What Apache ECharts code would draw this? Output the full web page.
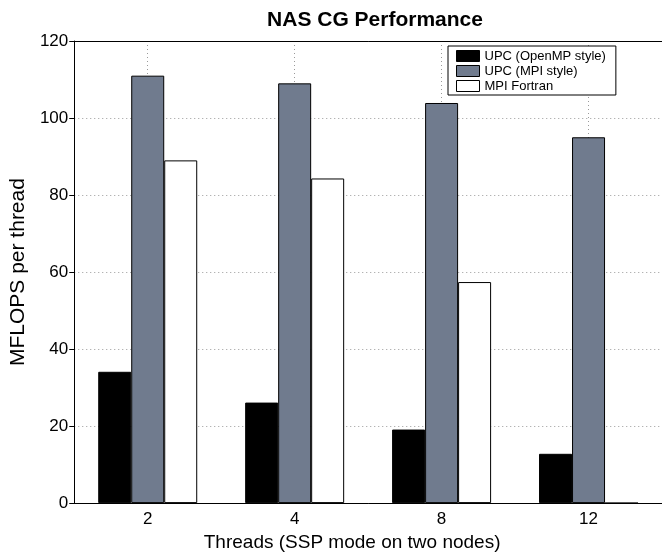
<!DOCTYPE html>
<html>
<head>
<meta charset="utf-8">
<script src="https://cdn.jsdelivr.net/npm/echarts@6/dist/echarts.min.js"></script>
<style>
html,body{margin:0;padding:0;background:#fff;}
#c{width:662px;height:557px;}
</style>
</head>
<body>
<div id="c"></div>
<script>
var categories = ['2', '4', '8', '12'];
var upcOpenMP = [34.1, 26.1, 19.1, 12.8];
var upcMPI = [111.0, 109.0, 103.9, 95.0];
var mpiFortran = [89.0, 84.3, 57.4, 0];
var seriesNames = ['UPC (OpenMP style)', 'UPC (MPI style)', 'MPI Fortran'];
var yTicks = [0, 20, 40, 60, 80, 100, 120];

// helper axis with 2*n+1 points so that odd indices fall on category centres
var halfSteps = [];
for (var i = 0; i <= categories.length * 2; i++) halfSteps.push(String(i));

var font = 'Liberation Sans, Arial, Helvetica, sans-serif';
var chart = echarts.init(document.getElementById('c'), null, {renderer: 'canvas'});
var dotted = {color: '#9a9a9a', type: [1, 3], width: 1};

chart.setOption({
  animation: false,
  backgroundColor: '#fff',
  textStyle: {fontFamily: font},
  title: {
    text: 'NAS CG Performance',
    left: 370, top: 5,
    textAlign: 'center',
    textStyle: {fontFamily: font, fontSize: 21, fontWeight: 'bold', color: '#000'}
  },
  legend: {
    orient: 'vertical',
    left: 448, top: 46,
    padding: [3, 10, 2, 8],
    itemGap: 1,
    itemWidth: 23, itemHeight: 11,
    borderColor: '#000', borderWidth: 1,
    backgroundColor: '#fff',
    icon: 'rect',
    textStyle: {fontFamily: font, fontSize: 13, color: '#000', lineHeight: 14},
    data: [
      {name: seriesNames[0], itemStyle: {color: '#000', borderColor: '#000', borderWidth: 1}},
      {name: seriesNames[1], itemStyle: {color: '#707b8e', borderColor: '#000', borderWidth: 1}},
      {name: seriesNames[2], itemStyle: {color: '#fff', borderColor: '#000', borderWidth: 1}}
    ]
  },
  grid: {left: 71, top: 41, width: 595, bottom: 48, containLabel: false},
  xAxis: [
    {
      type: 'category',
      data: categories,
      position: 'bottom',
      axisLine: {show: true, lineStyle: {color: '#000', width: 1}},
      axisTick: {show: false},
      axisLabel: {color: '#000', fontSize: 17, fontFamily: font, margin: 8},
      splitLine: {show: false},
      name: 'Threads (SSP mode on two nodes)',
      nameLocation: 'middle',
      nameGap: 26,
      nameTextStyle: {color: '#000', fontSize: 19, fontFamily: font, padding: [0, 32, 0, 0]}
    },
    {
      type: 'category',
      data: halfSteps,
      boundaryGap: false,
      position: 'top',
      axisLine: {show: true, onZero: false, lineStyle: {color: '#000', width: 1}},
      axisTick: {show: false},
      axisLabel: {show: false},
      splitLine: {show: true, interval: function (idx) { return idx % 2 === 1; }, lineStyle: dotted}
    }
  ],
  yAxis: {
    type: 'value',
    min: yTicks[0], max: yTicks[yTicks.length - 1], interval: 20,
    axisLine: {show: true, lineStyle: {color: '#000', width: 1}},
    axisTick: {show: true, length: 5, inside: false, lineStyle: {color: '#000'}},
    axisLabel: {color: '#000', fontSize: 17, fontFamily: font, margin: 6},
    splitLine: {show: true, lineStyle: dotted},
    name: 'MFLOPS per thread',
    nameLocation: 'middle',
    nameGap: 43,
    nameTextStyle: {color: '#000', fontSize: 21, fontFamily: font}
  },
  series: [
    {name: seriesNames[0], type: 'bar', xAxisIndex: 0, data: upcOpenMP, barWidth: 33, barGap: '0%',
     itemStyle: {color: '#000', borderColor: '#000', borderWidth: 1}},
    {name: seriesNames[1], type: 'bar', xAxisIndex: 0, data: upcMPI, barWidth: 33, barGap: '0%',
     itemStyle: {color: '#707b8e', borderColor: '#000', borderWidth: 1}},
    {name: seriesNames[2], type: 'bar', xAxisIndex: 0, data: mpiFortran, barWidth: 33, barGap: '0%',
     itemStyle: {color: '#fff', borderColor: '#000', borderWidth: 1}}
  ]
});
</script>
</body>
</html>
